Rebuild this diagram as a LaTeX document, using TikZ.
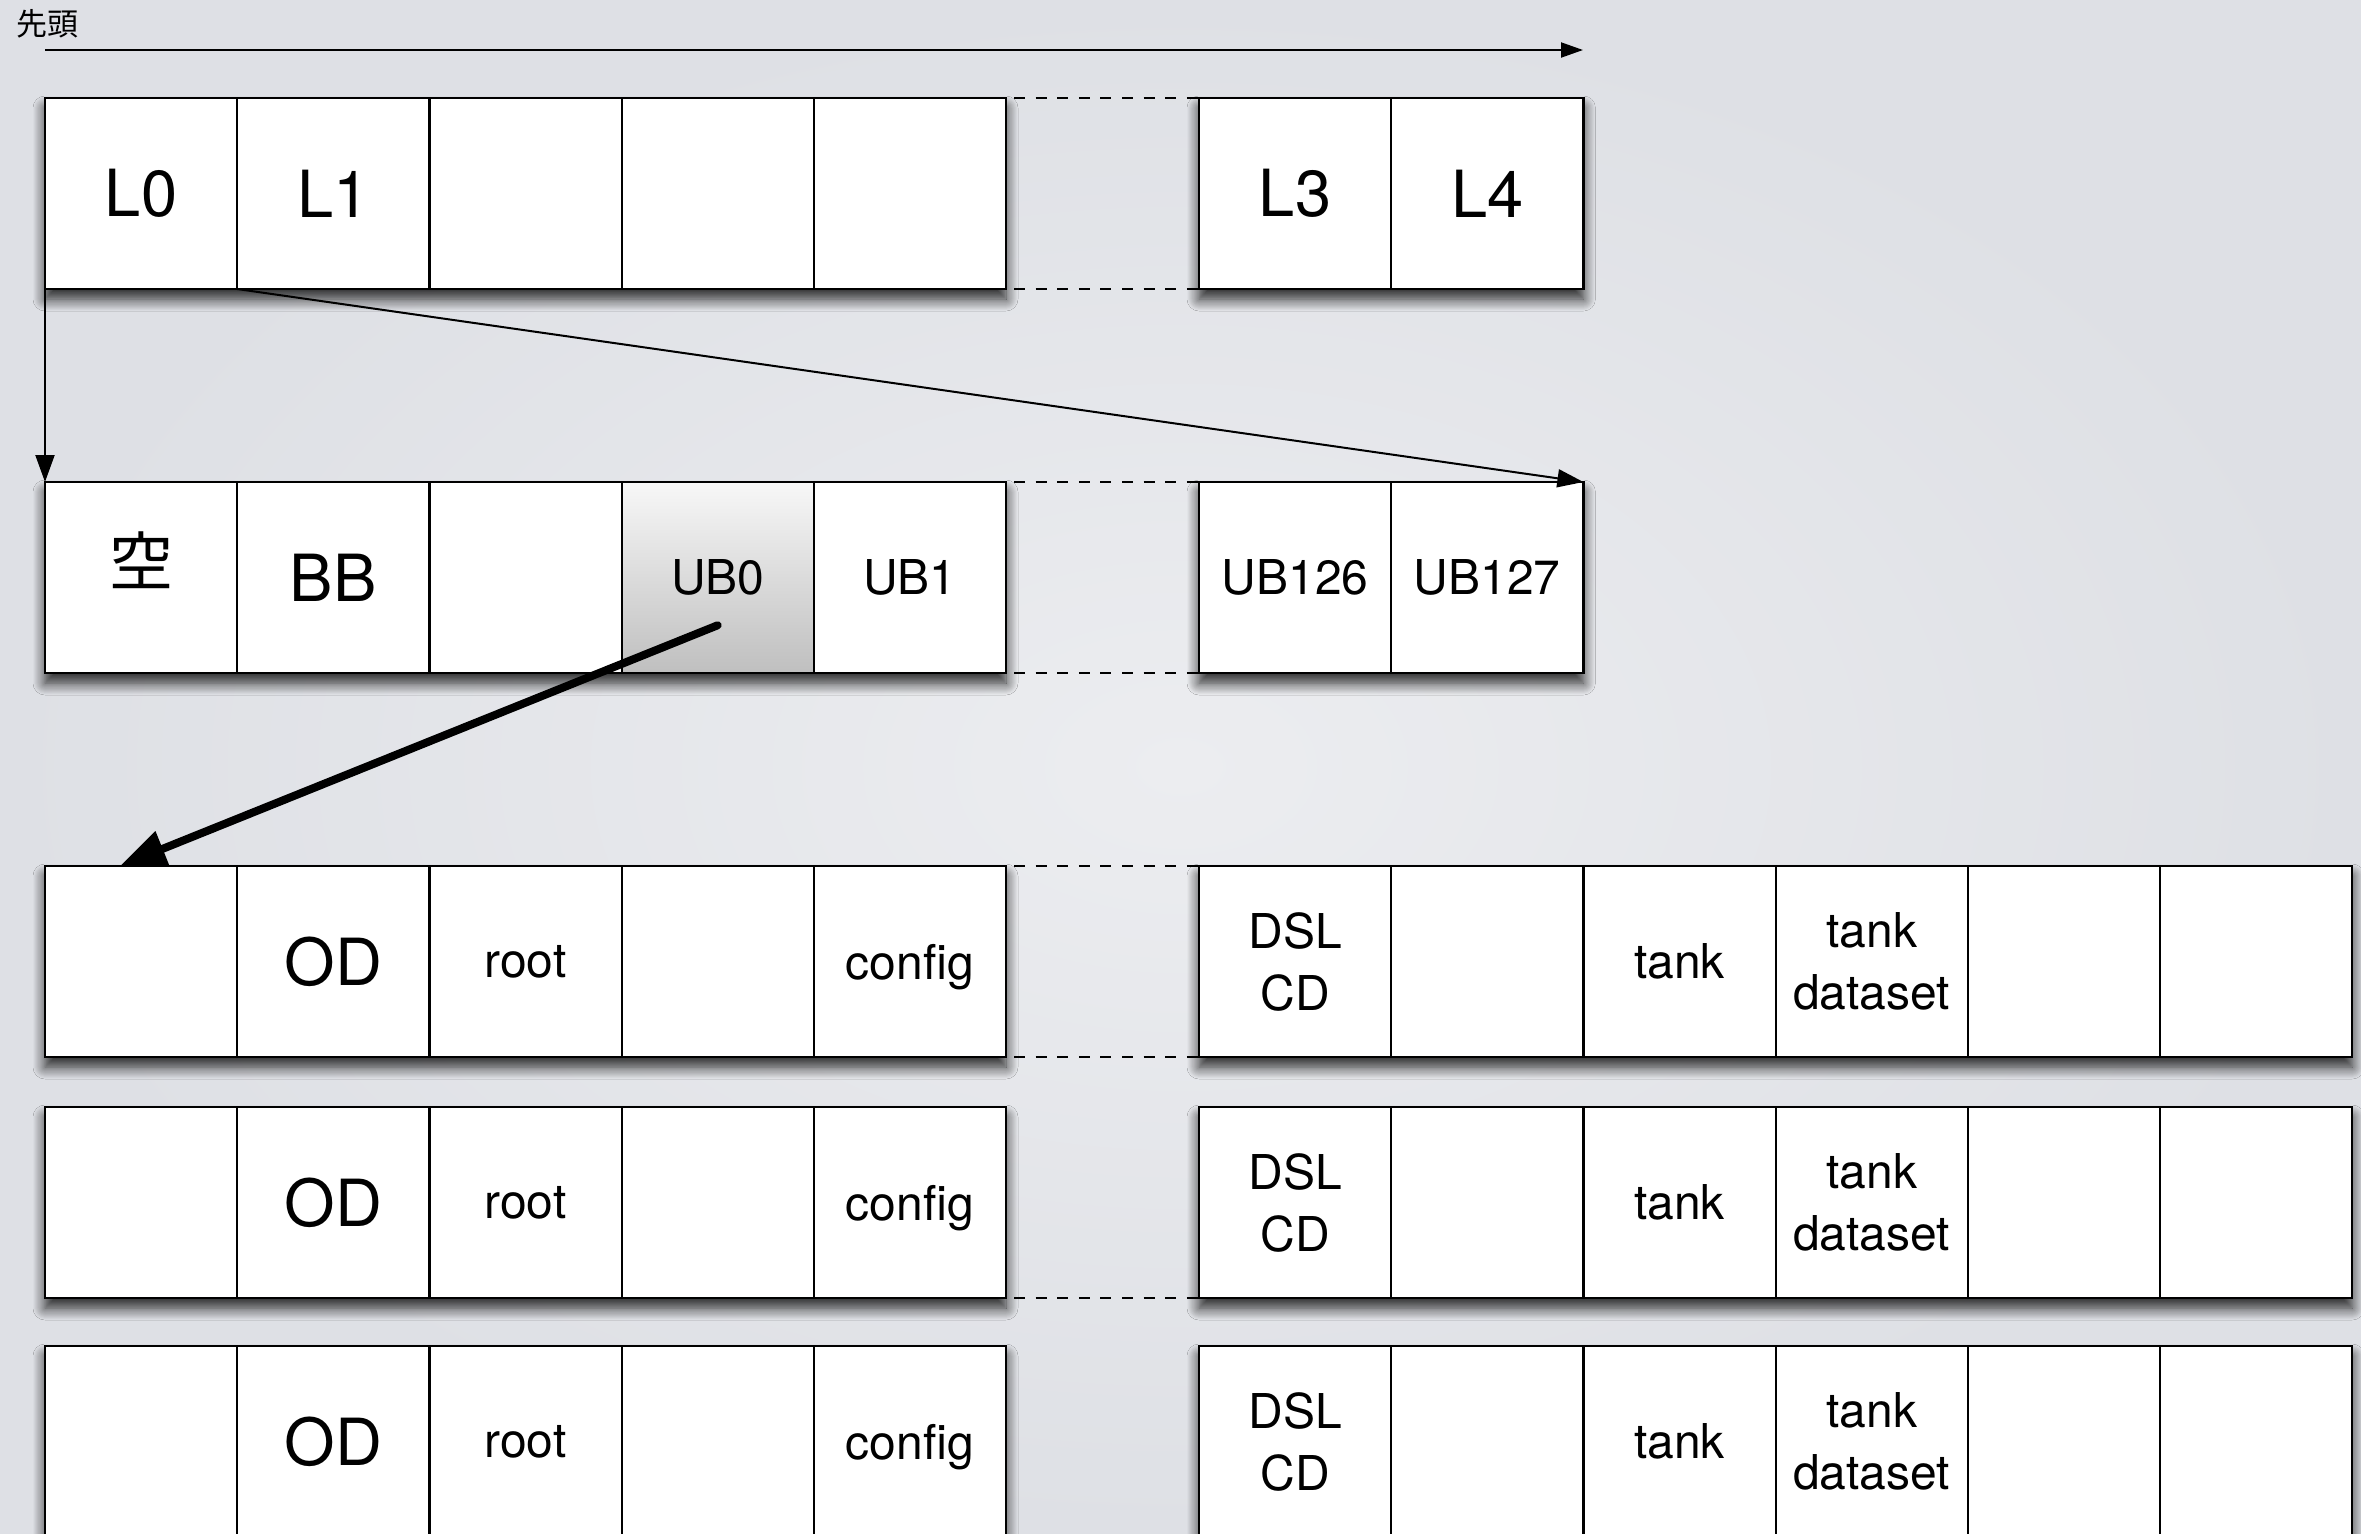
\documentclass[tikz,border=0pt]{standalone}
\usepackage{fontspec}
\setmainfont{TeX Gyre Heros}
\newfontfamily\cjk{Noto Sans CJK JP}
\usetikzlibrary{arrows.meta,calc,shadows.blur}
\definecolor{bgin}{RGB}{236,237,240}
\definecolor{bgout}{RGB}{222,224,229}
\newcommand\cw{192.2}
\newcommand\odrow[2]{%
  \path[blockshadow] (45,#2) rectangle (1006.0,#2+191);
  \path[blockshadow] (1199,#2) rectangle (2352.2,#2+191);
  \node[cell] (#1c1) at (45,#2) {};
  \node[cell,big] (#1c2) at (45+\cw,#2) {OD};
  \node[cell,small] (#1c3) at (45+2*\cw,#2) {root};
  \node[cell] (#1c4) at (45+3*\cw,#2) {};
  \node[cell,small,text depth=0pt] (#1c5) at (45+4*\cw,#2) {config};
  \node[cell,small] (#1c6) at (1199,#2) {DSL\\CD};
  \node[cell] (#1c7) at (1199+\cw,#2) {};
  \node[cell,small] (#1c8) at (1199+2*\cw,#2) {tank};
  \node[cell,small] (#1c9) at (1199+3*\cw,#2) {tank\\dataset};
  \node[cell] (#1c10) at (1199+4*\cw,#2) {};
  \node[cell] (#1c11) at (1199+5*\cw,#2) {};
}
\begin{document}
\begin{tikzpicture}[x=0.5pt,y=-0.5pt,
  cell/.style={draw=black, line width=1.1pt, fill=white, minimum width=96.1pt,
    minimum height=95.5pt, inner sep=0pt, outer sep=0pt, anchor=north west, align=center},
  big/.style={font=\fontsize{32.5}{39}\selectfont},
  small/.style={font=\fontsize{24}{31}\selectfont},
  gapline/.style={line width=1pt, dash pattern=on 5.5pt off 5.3pt, dash phase=6.8pt},
  blockshadow/.style={fill=white, blur shadow={shadow xshift=0pt, shadow yshift=-5pt,
    shadow blur radius=6pt, shadow opacity=85, shadow blur steps=12}},
  thinline/.style={line width=1pt, draw=black},
]
\clip (0,0) rectangle (2361,1533);
\shade[inner color=bgin, outer color=bgout] (0,0) rectangle (2361,1533);

% title and top arrow
\node[anchor=west, inner sep=0pt, font=\cjk\fontsize{15.5}{18}\selectfont] (title) at (16,24) {先頭};
\coordinate (hs) at (45,50);
\coordinate (he) at (1583,50);
\draw[thinline, -{Triangle[length=11pt,width=7.5pt,fill=black]}] (hs) -- (he);

% row 1
\path[blockshadow] (45,98) rectangle (1006.0,289);
\path[blockshadow] (1199,98) rectangle (1583.4,289);
\node[cell,big] (r1c1) at (45,98) {L0};
\node[cell,big] (r1c2) at (45+\cw,98) {L1};
\node[cell] (r1c3) at (45+2*\cw,98) {};
\node[cell] (r1c4) at (45+3*\cw,98) {};
\node[cell] (r1c5) at (45+4*\cw,98) {};
\node[cell,big] (r1c6) at (1199,98) {L3};
\node[cell,big] (r1c7) at (1199+\cw,98) {L4};
\draw[gapline] (r1c5.north east) -- (r1c6.north west);
\draw[gapline] (r1c5.south east) -- (r1c6.south west);

% row 2
\path[blockshadow] (45,482) rectangle (1006.0,673);
\path[blockshadow] (1199,482) rectangle (1583.4,673);
\node[cell] (r2c1) at (45,482) {};
\node[anchor=center, inner sep=0pt, font=\cjk\fontsize{32}{38}\selectfont] (kara) at (141,560) {空};
\node[cell,big] (r2c2) at (45+\cw,482) {BB};
\node[cell] (r2c3) at (45+2*\cw,482) {};
\node[cell,small, top color=white!97!black, bottom color=black!25] (r2c4) at (45+3*\cw,482) {UB0};
\node[cell,small] (r2c5) at (45+4*\cw,482) {UB1};
\node[cell,small] (r2c6) at (1199,482) {UB126};
\node[cell,small] (r2c7) at (1199+\cw,482) {UB127};
\draw[gapline] (r2c5.north east) -- (r2c6.north west);
\draw[gapline] (r2c5.south east) -- (r2c6.south west);

% rows 3-5
\odrow{r3}{866}
\odrow{r4}{1107}
\odrow{r5}{1346}
\draw[gapline] (r3c5.north east) -- (r3c6.north west);
\draw[gapline] (r3c5.south east) -- (r3c6.south west);
\draw[gapline] (r4c5.south east) -- (r4c6.south west);

% arrows
\draw[thinline, -{Triangle[length=13.5pt,width=9.5pt,fill=black]}] (r1c1.south west) -- (r2c1.north west);
\draw[thinline, -{Triangle[length=13pt,width=9pt,fill=black]}] (r1c2.south west) -- (r2c7.north east);
\draw[line width=4pt, draw=black, line cap=round, -{Triangle[length=23pt,width=18pt,fill=black]}]
  ($(r2c4.center)!0.5!(r2c4.south)$) -- ($(r3c1.north west)!0.39!(r3c1.north east)$);
\end{tikzpicture}
\end{document}
